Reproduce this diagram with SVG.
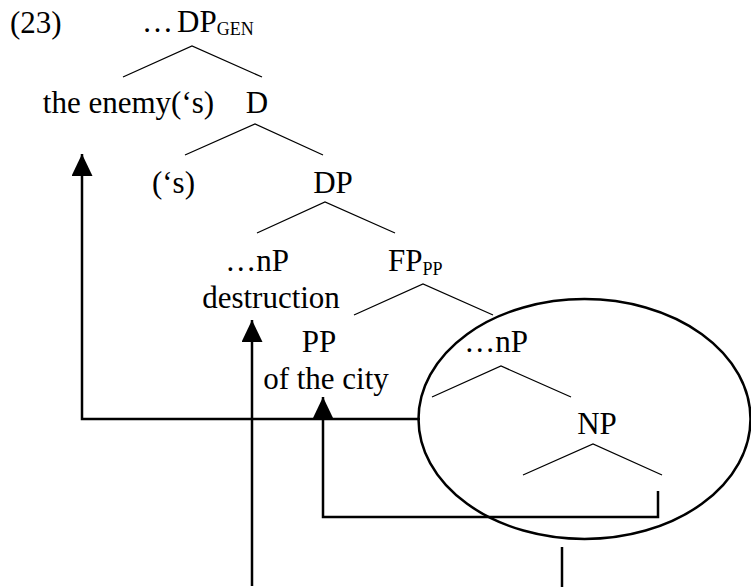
<svg xmlns="http://www.w3.org/2000/svg" width="751" height="587" viewBox="0 0 751 587">
<style>
text{font-family:"Liberation Serif","Times New Roman",serif;font-size:31px;fill:#000}
.sub{font-size:18px}
.m{text-anchor:middle}
.tree line,.tree polyline{fill:none;stroke:#000;stroke-width:1.3}
.conn path{fill:none;stroke:#000;stroke-width:2.5}
</style>
<defs>
<marker id="arr" viewBox="0 0 22 21" refX="22" refY="10.5" markerWidth="22" markerHeight="21" markerUnits="userSpaceOnUse" orient="auto">
<path d="M0,0 L22,10.5 L0,21 z" fill="#000"/>
</marker>
</defs>
<rect width="751" height="587" fill="#fff"/>
<text x="10" y="33">(23)</text>
<g id="n-dpgen"><text x="142" y="32">…<tspan dx="4">DP</tspan><tspan class="sub" dy="3">GEN</tspan></text></g>
<g id="n-enemy"><text class="m" x="128.5" y="113">the enemy(‘s)</text></g>
<g id="n-d"><text class="m" x="257" y="113">D</text></g>
<g id="n-s"><text class="m" x="173.5" y="193">(‘s)</text></g>
<g id="n-dp"><text class="m" x="333" y="193">DP</text></g>
<g id="n-np1"><text class="m" x="257" y="271">…nP</text><text class="m" x="271" y="308">destruction</text></g>
<g id="n-fppp"><text x="388" y="271">FP<tspan class="sub" dy="4">PP</tspan></text></g>
<g id="n-pp"><text class="m" x="319" y="352">PP</text><text class="m" x="326" y="389">of the city</text></g>
<g id="n-np2"><text class="m" x="496" y="352">…nP</text></g>
<g id="n-np3"><text class="m" x="597" y="434">NP</text></g>
<g id="n-circle"><ellipse cx="584.5" cy="419" rx="166" ry="120" fill="none" stroke="#000" stroke-width="2.5"/></g>
<g class="tree">
<polyline points="123,77 192,46 262,77"/>
<polyline points="185,155 255,124 323,155"/>
<polyline points="257,233 325,202 395,233"/>
<polyline points="354,315 423,284 493,315"/>
<polyline points="432,397 501,366 571,397"/>
<polyline points="523,475 593,444 662,475"/>
</g>
<g class="conn" id="connectors">
<path d="M420,419 H82 V154" marker-end="url(#arr)"/>
<path d="M252,586 V320" marker-end="url(#arr)"/>
<path d="M658,491 V517 H323 V397" marker-end="url(#arr)"/>
<path d="M562,547 V587"/>
</g>
</svg>
